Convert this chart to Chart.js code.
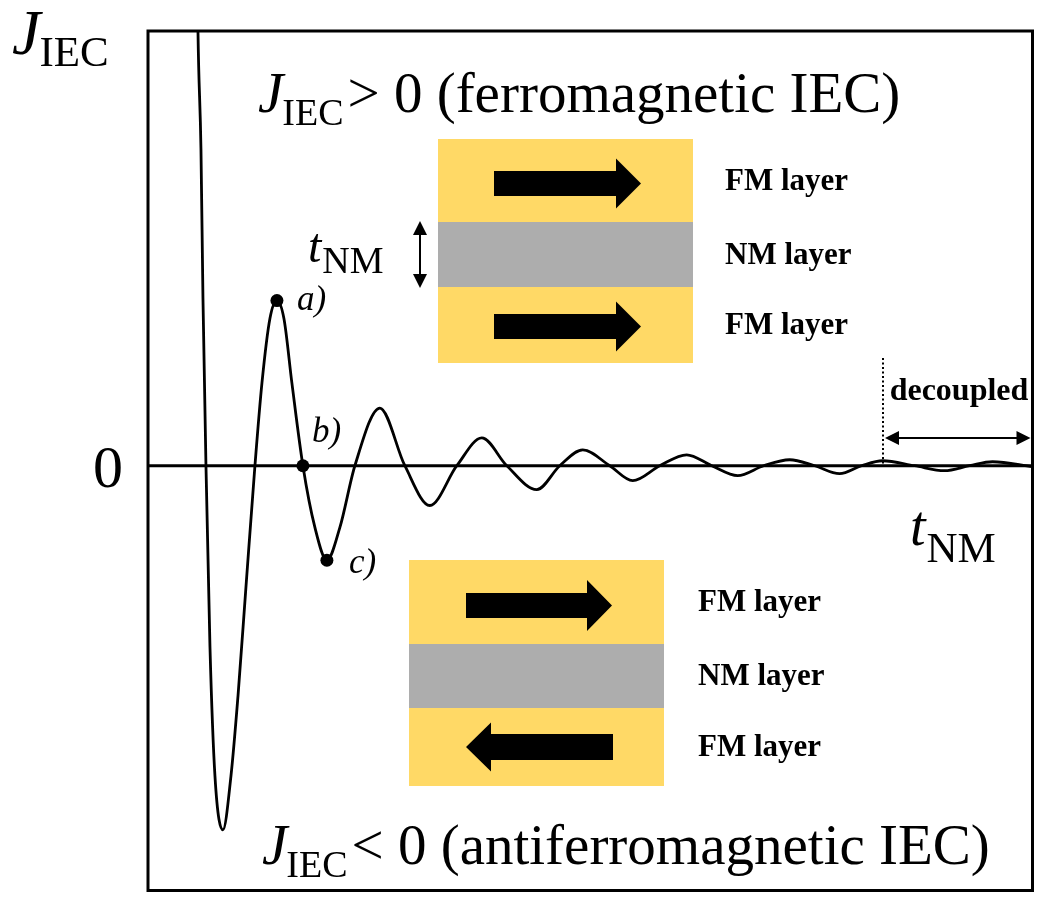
<!DOCTYPE html>
<html>
<head>
<meta charset="utf-8">
<script src="https://cdn.jsdelivr.net/npm/chart.js@4.4.1/dist/chart.umd.min.js"></script>
<style>
  html, body { margin: 0; padding: 0; background: #ffffff; }
  #wrap { width: 1039px; height: 897px; }
</style>
</head>
<body>
<div id="wrap"><canvas id="c" width="1039" height="897"></canvas></div>
<script>
// ---- data (arbitrary units) ----
const tNM = [0.49, 0.50, 0.53, 0.55, 0.58, 0.62, 0.67, 0.75, 0.83, 0.90, 0.98, 1.07,
             1.14, 1.22, 1.29, 1.36, 1.44, 1.55, 1.67, 1.79, 1.92, 2.07,
             2.32, 2.57, 2.82, 3.09, 3.34, 3.59, 3.89, 4.12, 4.35, 4.62, 4.85, 5.12,
             5.39, 5.64, 5.90, 6.16, 6.42, 6.67, 6.92, 7.14, 7.35, 7.67, 7.97, 8.22,
             8.45, 8.85];
const jIEC = [5.30, 4.37, 3.18, 1.68, 0.00, -1.82, -3.12, -3.66, -3.12, -2.32, -1.22, 0.00,
              0.83, 1.48, 1.66, 1.48, 0.83, 0.00, -0.62, -0.95, -0.62, 0.00,
              0.58, 0.00, -0.40, 0.00, 0.28, 0.00, -0.24, 0.00, 0.16, 0.00, -0.15, 0.00,
              0.11, 0.00, -0.10, 0.00, 0.06, 0.00, -0.08, 0.00, 0.05, 0.00, -0.05, 0.00,
              0.04, -0.01];
const markerT = [1.29, 1.55, 1.79];
const markerJ = [1.66, 0.00, -0.95];
const markerLabels = ['a)', 'b)', 'c)'];
const xRange = [0, 8.85];
const yRange = [-4.27, 4.37];
const topLayers = ['FM layer', 'NM layer', 'FM layer'];
const bottomLayers = ['FM layer', 'NM layer', 'FM layer'];

// ---- styles ----
const SERIF = '"Liberation Serif", "Times New Roman", serif';
const YELLOW = '#FFD966';
const GREY = '#ADADAD';

function jText(ctx, x, base, size, subSize, subDrop, rest, restGap) {
  ctx.textAlign = 'left';
  ctx.textBaseline = 'alphabetic';
  ctx.font = 'italic ' + size + 'px ' + SERIF;
  ctx.fillText('J', x, base);
  let w = ctx.measureText('J').width;
  ctx.font = subSize + 'px ' + SERIF;
  ctx.fillText('IEC', x + w - 1, base + subDrop);
  w += ctx.measureText('IEC').width - 1;
  if (rest) {
    ctx.font = size + 'px ' + SERIF;
    ctx.fillText(rest, x + w + restGap, base);
  }
}
function tText(ctx, x, base, size, subSize, subDrop) {
  ctx.textAlign = 'left';
  ctx.textBaseline = 'alphabetic';
  ctx.font = 'italic ' + size + 'px ' + SERIF;
  ctx.fillText('t', x, base);
  const w = ctx.measureText('t').width;
  ctx.font = subSize + 'px ' + SERIF;
  ctx.fillText('NM', x + w + 1, base + subDrop);
}
function blockArrow(ctx, xTail, xHeadBase, xTip, yc, sh, hh) {
  ctx.beginPath();
  ctx.moveTo(xTail, yc - sh);
  ctx.lineTo(xHeadBase, yc - sh);
  ctx.lineTo(xHeadBase, yc - hh);
  ctx.lineTo(xTip, yc);
  ctx.lineTo(xHeadBase, yc + hh);
  ctx.lineTo(xHeadBase, yc + sh);
  ctx.lineTo(xTail, yc + sh);
  ctx.closePath();
  ctx.fill();
}
function lineArrowHead(ctx, x, y, dx, dy, len, half) {
  const px = -dy, py = dx;
  ctx.beginPath();
  ctx.moveTo(x, y);
  ctx.lineTo(x - dx * len + px * half, y - dy * len + py * half);
  ctx.lineTo(x - dx * len - px * half, y - dy * len - py * half);
  ctx.closePath();
  ctx.fill();
}
function stack(ctx, left, right, top, b1, b2, bottom, labels, labelX) {
  ctx.fillStyle = YELLOW;
  ctx.fillRect(left, top, right - left, b1 - top);
  ctx.fillRect(left, b2, right - left, bottom - b2);
  ctx.fillStyle = GREY;
  ctx.fillRect(left, b1, right - left, b2 - b1);
  ctx.fillStyle = '#000';
  ctx.font = 'bold 31px ' + SERIF;
  ctx.textAlign = 'left';
  ctx.textBaseline = 'middle';
  ctx.fillText(labels[0], labelX, (top + b1) / 2 + 1);
  ctx.fillText(labels[1], labelX, (b1 + b2) / 2 + 1);
  ctx.fillText(labels[2], labelX, (b2 + bottom) / 2 + 1);
}

const decor = {
  id: 'decor',
  beforeDatasetsDraw(chart) {
    const { ctx, chartArea: a, scales: { y } } = chart;
    const y0 = y.getPixelForValue(0);
    ctx.save();
    ctx.strokeStyle = '#000';
    ctx.lineWidth = 3;
    ctx.beginPath();
    ctx.moveTo(a.left, y0);
    ctx.lineTo(a.right, y0);
    ctx.stroke();
    ctx.restore();
  },
  afterDatasetsDraw(chart) {
    const { ctx, chartArea: a, scales: { x, y } } = chart;
    const y0 = y.getPixelForValue(0);
    ctx.save();

    // insets
    stack(ctx, 438, 693, 139, 222, 287, 363, topLayers, 725);
    stack(ctx, 409, 664, 560, 644, 708, 786, bottomLayers, 698);
    ctx.fillStyle = '#000';
    blockArrow(ctx, 494, 616, 641, 183.5, 12.5, 25);
    blockArrow(ctx, 494, 616, 641, 326.5, 12.5, 25);
    blockArrow(ctx, 466, 587, 612, 605.5, 12.5, 25.5);
    blockArrow(ctx, 613, 491, 466, 747, 13, 24.5);

    // thickness double arrow
    ctx.strokeStyle = '#000';
    ctx.lineWidth = 2;
    ctx.beginPath();
    ctx.moveTo(420, 232);
    ctx.lineTo(420, 277);
    ctx.stroke();
    lineArrowHead(ctx, 420, 221, 0, -1, 14, 7);
    lineArrowHead(ctx, 420, 288, 0, 1, 14, 7);
    tText(ctx, 308, 262, 48, 38, 11);

    // decoupled region
    const xd = 883;
    ctx.setLineDash([2, 2.5]);
    ctx.lineWidth = 2;
    ctx.beginPath();
    ctx.moveTo(xd, 358);
    ctx.lineTo(xd, y0);
    ctx.stroke();
    ctx.setLineDash([]);
    ctx.beginPath();
    ctx.moveTo(xd + 8, 438);
    ctx.lineTo(a.right - 8, 438);
    ctx.stroke();
    lineArrowHead(ctx, xd + 2, 438, -1, 0, 14, 7);
    lineArrowHead(ctx, a.right - 2, 438, 1, 0, 14, 7);
    ctx.font = 'bold 32px ' + SERIF;
    ctx.textAlign = 'center';
    ctx.textBaseline = 'alphabetic';
    ctx.fillText('decoupled', 959, 400);

    // marker labels
    const meta = chart.getDatasetMeta(1);
    const offs = [[20, 9], [9, -24], [22, 13]];
    ctx.font = 'italic 35px ' + SERIF;
    ctx.textAlign = 'left';
    meta.data.forEach((p, i) => {
      ctx.fillText(markerLabels[i], p.x + offs[i][0], p.y + offs[i][1]);
    });

    // big in-plot statements
    jText(ctx, 258, 112, 57, 38, 13, '> 0 (ferromagnetic IEC)', 4);
    jText(ctx, 262, 864, 57, 38, 13, '< 0 (antiferromagnetic IEC)', 4);

    // axis labels
    jText(ctx, 12, 54, 64, 43, 12, null, 0);
    ctx.font = '60px ' + SERIF;
    ctx.textAlign = 'center';
    ctx.textBaseline = 'alphabetic';
    ctx.fillText('0', 108, y0 + 21);
    tText(ctx, 910, 545, 56, 43, 17);

    // frame
    ctx.strokeStyle = '#000';
    ctx.lineWidth = 3;
    ctx.strokeRect(a.left, a.top, a.right - a.left, a.bottom - a.top);
    ctx.restore();
  }
};

const curve = tNM.map((t, i) => ({ x: t, y: jIEC[i] }));
const marks = markerT.map((t, i) => ({ x: t, y: markerJ[i] }));

new Chart(document.getElementById('c'), {
  type: 'line',
  data: {
    datasets: [
      {
        data: curve,
        borderColor: '#000',
        borderWidth: 2.8,
        pointRadius: 0,
        cubicInterpolationMode: 'monotone',
        fill: false
      },
      {
        data: marks,
        showLine: false,
        pointRadius: 6.5,
        pointBackgroundColor: '#000',
        pointBorderColor: '#000',
        pointBorderWidth: 0
      }
    ]
  },
  options: {
    responsive: false,
    animation: false,
    devicePixelRatio: 1,
    layout: { padding: { left: 148, top: 31, right: 6, bottom: 2 } },
    plugins: { legend: { display: false }, tooltip: { enabled: false } },
    scales: {
      x: { type: 'linear', min: xRange[0], max: xRange[1], display: false },
      y: { type: 'linear', min: yRange[0], max: yRange[1], display: false }
    }
  },
  plugins: [decor]
});
</script>
</body>
</html>
